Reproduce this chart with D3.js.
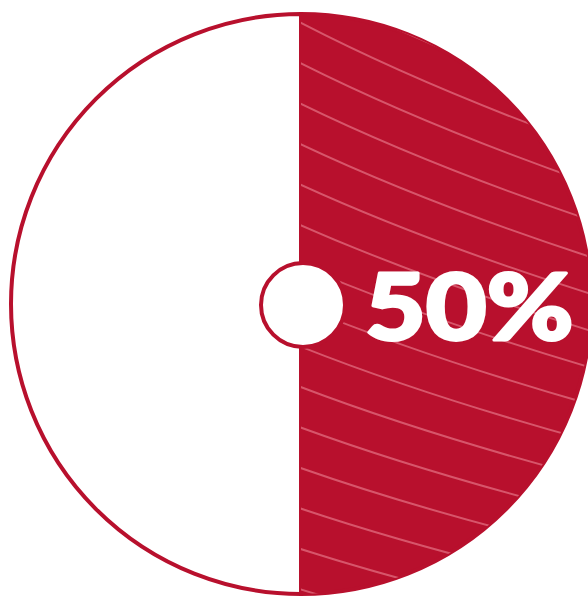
<!DOCTYPE html>
<html><head><meta charset="utf-8">
<script src="https://cdn.jsdelivr.net/npm/d3@7"></script>
<style>html,body{margin:0;padding:0;background:#fff;overflow:hidden}</style>
</head><body>
<svg id="c" width="588" height="600"></svg>
<script>
const categories = ["Yes", "No"];
const values = [50, 50];
const labelText = "50%";

const W = 588, H = 600;
const cx = 301, cy = 304, R = 290;
const red = "#b8102d";
const svg = d3.select("#c");

const pie = d3.pie().sort(null).startAngle(0).endAngle(2 * Math.PI).value(d => d);
const arcs = pie(values);
const arc = d3.arc().innerRadius(0).outerRadius(R);

const g = svg.append("g").attr("transform", `translate(${cx},${cy})`);

const defs = svg.append("defs");
defs.append("clipPath").attr("id", "sliceClip")
  .append("path").attr("d", arc(arcs[0]));

g.selectAll("path.slice").data(arcs).join("path")
  .attr("class", "slice")
  .attr("d", arc)
  .attr("fill", (d, i) => i === 0 ? red : "#fff")
  .attr("stroke", red).attr("stroke-width", 4);

// decorative flowing lines inside the filled slice
const lineG = g.append("g").attr("clip-path", "url(#sliceClip)");
const offsets = d3.range(-6, 16);
lineG.selectAll("path.hl").data(offsets).join("path")
  .attr("class", "hl")
  .attr("d", k => {
    const y0 = -282 + k * 40.5;
    const s = 0.43 - Math.max(0, Math.min(1, (y0 + 290) / 580)) * 0.18;
    return `M-10,${y0 - 10 * s} Q120,${y0 + 120 * s * 1.25} 300,${y0 + 300 * s}`;
  })
  .attr("fill", "none").attr("stroke", "#dc6275").attr("stroke-width", 2).attr("opacity", 0.85);

g.append("circle").attr("cx", 2).attr("cy", 1).attr("r", 42)
  .attr("fill", "#fff").attr("stroke", red).attr("stroke-width", 4);

const t = svg.append("text").attr("x", 365).attr("y", 340)
  .attr("fill", "#fff").attr("stroke", "#fff").attr("stroke-width", 3)
  .attr("stroke-linejoin", "round")
  .attr("font-family", "Lato, 'Open Sans', sans-serif")
  .attr("font-weight", 900).attr("font-size", 92).text(labelText);
const w = t.node().getComputedTextLength() + 3;
t.attr("transform", `translate(365,340) scale(${212 / w},1) translate(-365,-340)`);
</script>
</body></html>
